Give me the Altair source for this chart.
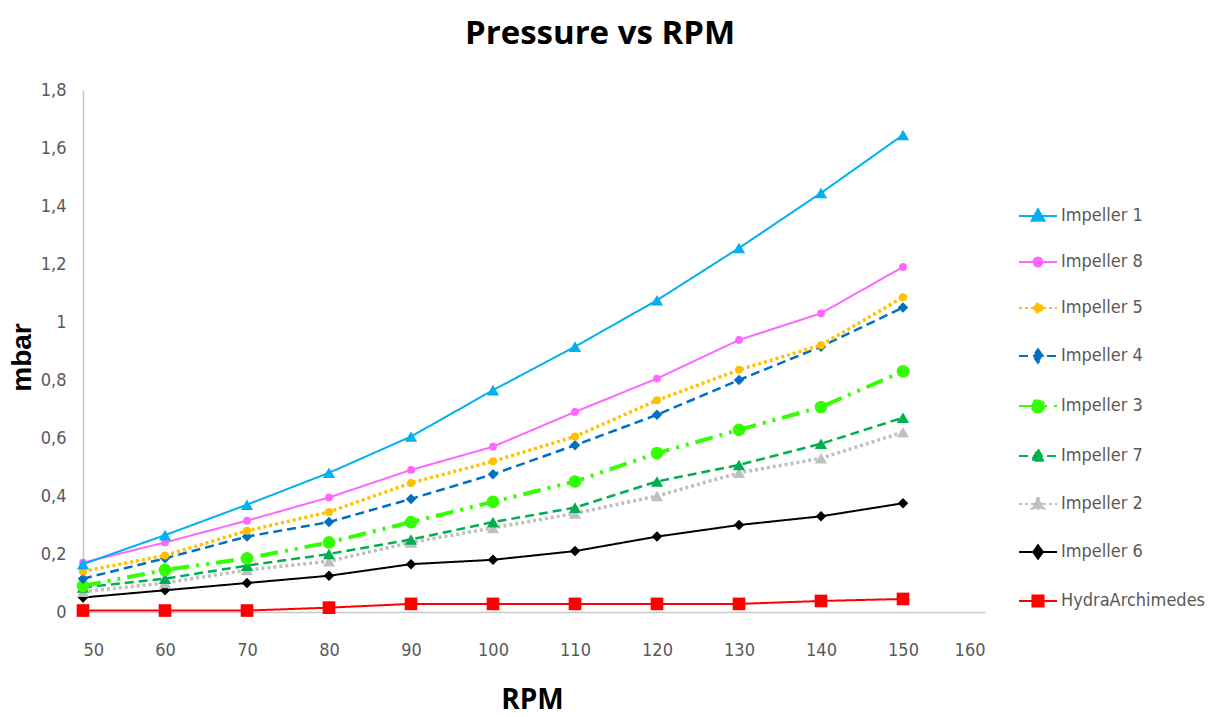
import altair as alt
import pandas as pd

rpm = [50, 60, 70, 80, 90, 100, 110, 120, 130, 140, 150]
series_names = ["Impeller 1", "Impeller 8", "Impeller 5", "Impeller 4", "Impeller 3",
                "Impeller 7", "Impeller 2", "Impeller 6", "HydraArchimedes"]

impeller_1 = [0.165, 0.265, 0.37, 0.48, 0.605, 0.765, 0.915, 1.075, 1.255, 1.445, 1.645]
impeller_8 = [0.17, 0.24, 0.315, 0.395, 0.49, 0.57, 0.69, 0.805, 0.938, 1.03, 1.19]
impeller_5 = [0.14, 0.195, 0.28, 0.345, 0.445, 0.52, 0.605, 0.73, 0.835, 0.92, 1.085]
impeller_4 = [0.115, 0.185, 0.26, 0.31, 0.39, 0.475, 0.575, 0.68, 0.80, 0.915, 1.05]
impeller_3 = [0.09, 0.145, 0.185, 0.24, 0.31, 0.38, 0.45, 0.548, 0.628, 0.707, 0.83]
impeller_7 = [0.085, 0.115, 0.16, 0.2, 0.25, 0.31, 0.36, 0.45, 0.507, 0.58, 0.67]
impeller_2 = [0.07, 0.10, 0.145, 0.175, 0.24, 0.29, 0.34, 0.40, 0.48, 0.53, 0.62]
impeller_6 = [0.05, 0.075, 0.10, 0.125, 0.165, 0.18, 0.21, 0.26, 0.30, 0.33, 0.375]
hydra = [0.005, 0.005, 0.005, 0.015, 0.028, 0.028, 0.028, 0.028, 0.028, 0.038, 0.045]

values = [impeller_1, impeller_8, impeller_5, impeller_4, impeller_3,
          impeller_7, impeller_2, impeller_6, hydra]

colors = ["#00B0F0", "#FF66FF", "#FFC000", "#0070C0", "#33FF00",
          "#00B050", "#BFBFBF", "#000000", "#FF0000"]
dashes = [[1, 0], [1, 0], [3, 3], [9, 5], [18, 7, 3, 7, 3, 7],
          [9, 5], [3, 3], [1, 0], [1, 0]]
widths = [2, 2, 3.5, 2.5, 4, 2.5, 3.5, 2, 2]
shapes = ["triangle-up", "circle", "circle", "diamond", "circle",
          "triangle-up", "triangle-up", "diamond", "square"]
sizes = [150, 60, 65, 110, 160, 150, 150, 110, 160]

# legend glyphs: short line + marker (units scaled by sqrt(size)/2)
LINE = "M-4.75,0H4.75"
TRI = LINE + "M0,-1.7L1.6,1.2L-1.6,1.2Z"
CIRC_S = LINE + "M1.1,0A1.1,1.1,0,1,1,-1.1,0A1.1,1.1,0,1,1,1.1,0Z"
CIRC_L = LINE + "M1.6,0A1.6,1.6,0,1,1,-1.6,0A1.6,1.6,0,1,1,1.6,0Z"
DIAM = LINE + "M0,-1.7L1.2,0L0,1.7L-1.2,0Z"
SQR = LINE + "M-1.4,-1.4H1.4V1.4H-1.4Z"
legend_paths = [TRI, CIRC_S, CIRC_S, DIAM, CIRC_L, TRI, TRI, DIAM, SQR]

rows = []
for name, vals in zip(series_names, values):
    for r, v in zip(rpm, vals):
        rows.append({"rpm": r, "mbar": v, "series": name})
df = pd.DataFrame(rows)

NARROW = "Liberation Sans Narrow, DejaVu Sans Condensed, Open Sans, sans-serif"

x_enc = alt.X(
    "rpm:Q",
    scale=alt.Scale(domain=[50, 160], nice=False, zero=False),
    axis=alt.Axis(
        values=list(range(50, 161, 10)), grid=False, ticks=False,
        domainColor="#C8C8C8", domainWidth=1.5,
        labelFont=NARROW, labelFontSize=18, labelColor="#595959", labelPadding=29,
        title="RPM", titleFont="Open Sans", titleFontSize=28, titleFontWeight="bold",
        titleColor="#000000", titleX=449, titleY=88, titleBaseline="middle",
    ),
)
y_enc = alt.Y(
    "mbar:Q",
    scale=alt.Scale(domain=[0, 1.8], nice=False),
    axis=alt.Axis(
        values=[0, 0.2, 0.4, 0.6, 0.8, 1.0, 1.2, 1.4, 1.6, 1.8], grid=False, ticks=False,
        domainColor="#C8C8C8", domainWidth=1.5,
        labelExpr="replace(format(datum.value, '.1~f'), '.', ',')",
        labelFont=NARROW, labelFontSize=18, labelColor="#595959", labelPadding=17,
        title="mbar", titleFont="Liberation Sans, Arial, sans-serif", titleFontSize=28,
        titleFontWeight="bold", titleColor="#000000",
        titleX=-61, titleY=267, titleBaseline="middle", titleAlign="center", titleAngle=270,
    ),
)

layers = []
order = list(range(len(series_names)))[::-1]
for i in order:
    name = series_names[i]
    sub = alt.Chart(df).transform_filter(alt.datum.series == name)
    layers.append(
        sub.mark_line(color=colors[i], strokeWidth=widths[i], strokeDash=dashes[i])
        .encode(x=x_enc, y=y_enc)
    )
    layers.append(
        sub.mark_point(filled=True, shape=shapes[i], size=sizes[i], color=colors[i], opacity=1)
        .encode(x=x_enc, y=y_enc)
    )

legend = alt.Legend(
    title=None, orient="none", legendX=937, legendY=117, padding=0,
    labelFont=NARROW, labelFontSize=18, labelColor="#595959",
    symbolSize=64, symbolStrokeWidth=2, symbolOffset=9, labelOffset=14,
    rowPadding=28, symbolOpacity=1,
)
dom = alt.Scale(domain=series_names, range=colors)
legend_layer = (
    alt.Chart(df)
    .transform_filter("false")
    .mark_point(filled=True, size=64, strokeWidth=2, opacity=1)
    .encode(
        x=x_enc, y=y_enc,
        fill=alt.Fill("series:N", scale=dom, legend=legend),
        stroke=alt.Stroke("series:N", scale=dom, legend=legend),
        shape=alt.Shape("series:N", scale=alt.Scale(domain=series_names, range=legend_paths), legend=legend),
        strokeDash=alt.StrokeDash("series:N", scale=alt.Scale(domain=series_names, range=dashes), legend=legend),
    )
)
layers.append(legend_layer)

chart = (
    alt.layer(*layers)
    .properties(
        width=902, height=522,
        padding={"left": 83, "top": 90, "right": 227, "bottom": 105},
        autosize=alt.AutoSizeParams(type="none"),
        title=alt.TitleParams(
            "Pressure vs RPM", font="Open Sans", fontSize=33, fontWeight="bold",
            color="#000000", anchor="middle", dx=66, offset=30,
        ),
        background="#FFFFFF",
    )
    .configure_view(stroke=None)
)

chart.save("out.html", embed_options={"renderer": "svg", "actions": False})
